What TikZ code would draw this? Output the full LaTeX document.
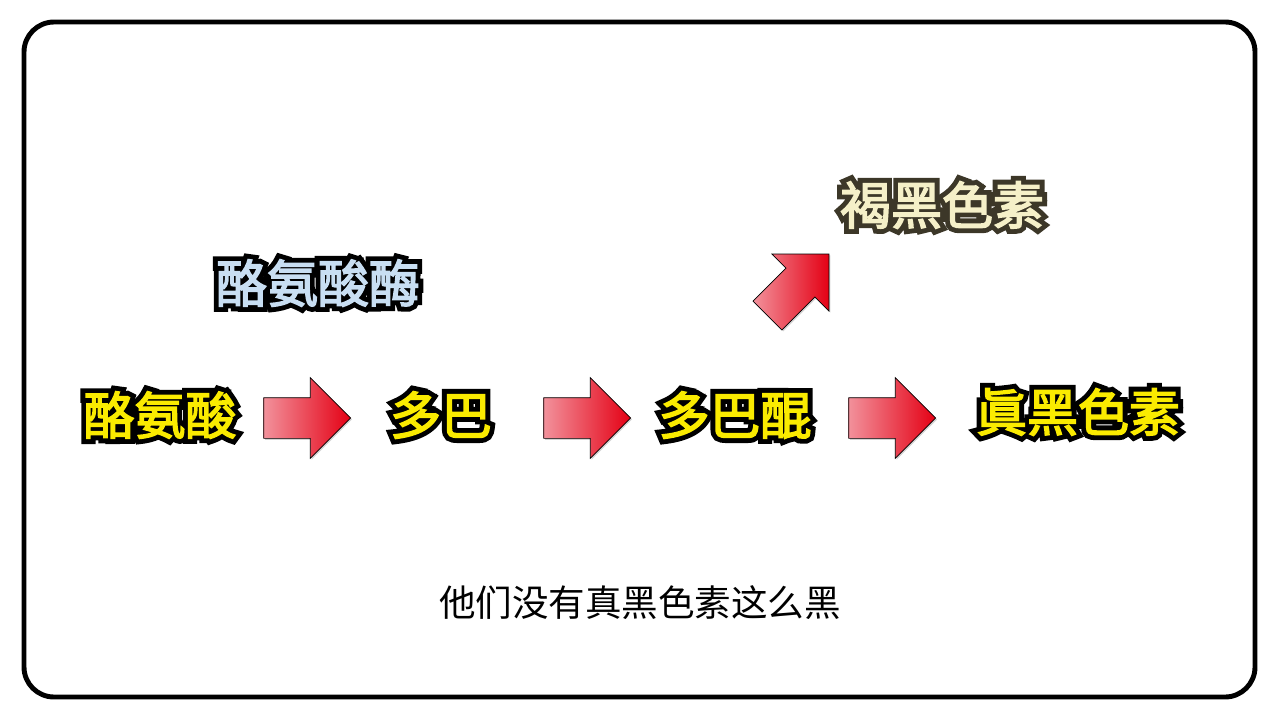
\documentclass[tikz,border=0pt]{standalone}
\usepackage{fontspec}
\newfontfamily\cjk{Noto Sans CJK SC}
\newfontfamily\cjkheavy{Noto Sans CJK SC}[FakeBold=3]
\newfontfamily\cjkrim{Noto Sans CJK SC}[FakeBold=22]
\usetikzlibrary{shapes.arrows, shadows, positioning}

\definecolor{lemon}{RGB}{250,235,0}
\definecolor{iceblue}{RGB}{200,222,242}
\definecolor{cream}{RGB}{245,240,200}
\definecolor{bark}{RGB}{60,55,40}
\definecolor{pinkred}{RGB}{242,145,155}
\definecolor{deepred}{RGB}{228,0,20}

% texto com contorno: copia muito engordada por baixo, texto colorido por cima
\newcommand\outlinetext[3][black]{%
  \leavevmode\rlap{\cjkrim\color{#1}#3}\textcolor{#2}{#3}}

\begin{document}
\begin{tikzpicture}[
    x=0.02cm, y=-0.02cm,
    stage/.style={inner sep=0pt, font=\cjkheavy\fontsize{29}{29}\selectfont},
    fatarrow/.style={single arrow, draw=black, thin,
        inner xsep=0pt, inner ysep=0.4cm,
        minimum height=1.74cm, minimum width=1.6cm,
        single arrow head extend=0.4cm,
        left color=pinkred, right color=deepred,
        drop shadow={shadow xshift=0.8pt, shadow yshift=-0.8pt, opacity=0.35}}
]
    \useasboundingbox (0,0) rectangle (1280,720);

    % 1. Moldura
    \draw[line width=2.8pt, rounded corners=0.6cm] (24,22) rectangle (1255,697);

    % 2. Etapas da via
    \node[stage] (tyrosine) at (160,415) {\outlinetext{lemon}{酪氨酸}};
    \node[stage] (dopa) at (441,415) {\outlinetext{lemon}{多巴}};
    \node[stage] (quinone) at (735,415) {\outlinetext{lemon}{多巴醌}};
    \node[stage] (eumelanin) at (1078,412) {\outlinetext{lemon}{眞黑色素}};
    \node[stage] (enzyme) at (318,283) {\outlinetext{iceblue}{酪氨酸酶}};
    \node[stage] (pheomelanin) at (942,205) {\outlinetext[bark]{cream}{褐黑色素}};

    % 3. Setas (o centro do no fica no corpo, nao no meio da seta)
    \node[fatarrow] (arrowA) at (297,418) {};
    \node[fatarrow] (arrowB) at (577,418) {};
    \node[fatarrow] (arrowC) at (882,418) {};
    \node[fatarrow, rotate=45] (arrowD) at (791,292) {};

    % 4. Legenda
    \node[font=\cjk\fontsize{20.8}{20.8}\selectfont] (caption) at (640,603) {他们没有真黑色素这么黑};

\end{tikzpicture}
\end{document}
